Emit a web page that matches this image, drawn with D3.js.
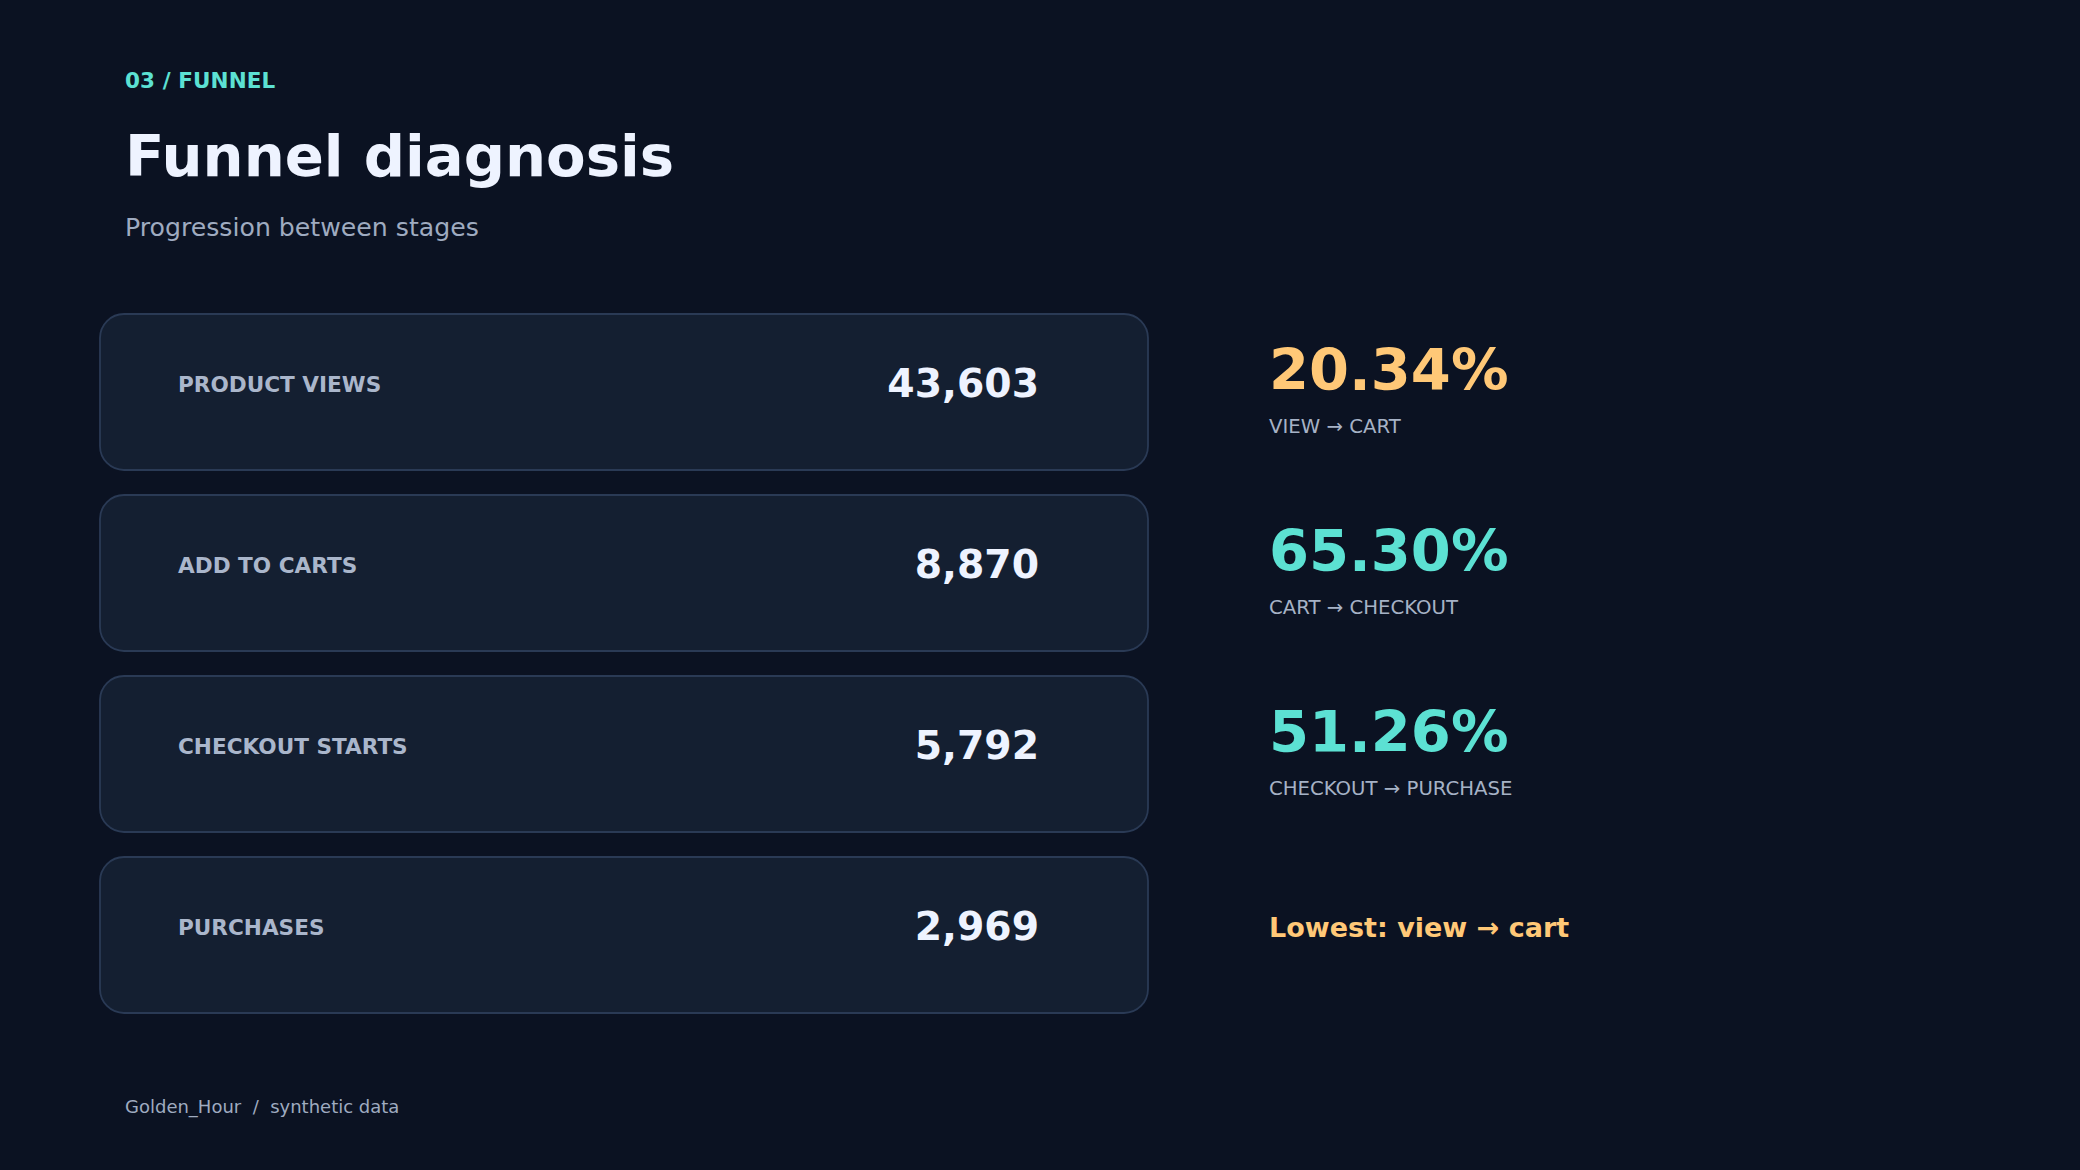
<!DOCTYPE html>
<html>
<head>
<meta charset="utf-8">
<script src="https://cdn.jsdelivr.net/npm/d3@7"></script>
<style>
  html, body { margin: 0; padding: 0; background: #0b1222; }
  svg { display: block; }
  text { font-family: "DejaVu Sans", sans-serif; }
</style>
</head>
<body>
<svg id="chart" width="2080" height="1170"></svg>
<script>
const stages = ["PRODUCT VIEWS", "ADD TO CARTS", "CHECKOUT STARTS", "PURCHASES"];
const stageValues = [43603, 8870, 5792, 2969];
const rateLabels = ["VIEW \u2192 CART", "CART \u2192 CHECKOUT", "CHECKOUT \u2192 PURCHASE"];
const rateValues = [20.34, 65.30, 51.26];
const lowestNote = "Lowest: view \u2192 cart";

const W = 2080, H = 1170;
const svg = d3.select("#chart");
svg.append("rect").attr("width", W).attr("height", H).attr("fill", "#0b1222");

svg.append("text").attr("x", 125).attr("y", 88)
  .attr("font-size", 21.5).attr("font-weight", "bold").attr("fill", "#5ce1d3")
  .attr("letter-spacing", 0.1)
  .text("03 / FUNNEL");
svg.append("text").attr("x", 125).attr("y", 176)
  .attr("font-size", 57.7).attr("font-weight", "bold").attr("fill", "#eef3ff")
  .text("Funnel diagnosis");
svg.append("text").attr("x", 125).attr("y", 236)
  .attr("font-size", 25.2).attr("fill", "#9fabc0")
  .text("Progression between stages");

const y = d3.scaleBand().domain(stages).range([314, 1013]).paddingInner(0.138).paddingOuter(0);
const cardX = 100, cardW = 1048;

const g = svg.append("g").selectAll("g").data(stages).join("g")
  .attr("transform", d => `translate(${cardX},${y(d)})`);
g.append("rect").attr("width", cardW).attr("height", y.bandwidth())
  .attr("rx", 24).attr("ry", 24)
  .attr("fill", "#141f31").attr("stroke", "#2a3a55").attr("stroke-width", 1.8);
g.append("text").attr("x", 78).attr("y", 78)
  .attr("font-size", 21.6).attr("font-weight", "bold").attr("fill", "#aab6cb")
  .text(d => d);
const fmt = d3.format(",");
g.append("text").attr("x", cardW - 109).attr("y", 83)
  .attr("text-anchor", "end")
  .attr("font-size", 39.3).attr("font-weight", "bold").attr("fill", "#eef3ff")
  .text((d, i) => fmt(stageValues[i]));

const rx = 1269;
const minRate = d3.min(rateValues);
const rg = svg.append("g").selectAll("g").data(rateValues).join("g")
  .attr("transform", (d, i) => `translate(${rx},${y(stages[i]) + y.bandwidth() / 2})`);
rg.append("text").attr("x", 0).attr("y", -2)
  .attr("font-size", 57.5).attr("font-weight", "bold")
  .attr("fill", d => d === minRate ? "#ffc877" : "#5ce1d3")
  .text(d => d.toFixed(2) + "%");
rg.append("text").attr("x", 0).attr("y", 41)
  .attr("font-size", 19.7).attr("fill", "#a6b2c6")
  .text((d, i) => rateLabels[i]);

svg.append("text").attr("x", rx).attr("y", y(stages[3]) + y.bandwidth() / 2 + 2)
  .attr("font-size", 27).attr("font-weight", "bold").attr("fill", "#ffc877")
  .text(lowestNote);

svg.append("text").attr("x", 125).attr("y", 1113)
  .attr("font-size", 18).attr("fill", "#9fabc0")
  .style("white-space", "pre")
  .text("Golden_Hour  /  synthetic data");
</script>
</body>
</html>
